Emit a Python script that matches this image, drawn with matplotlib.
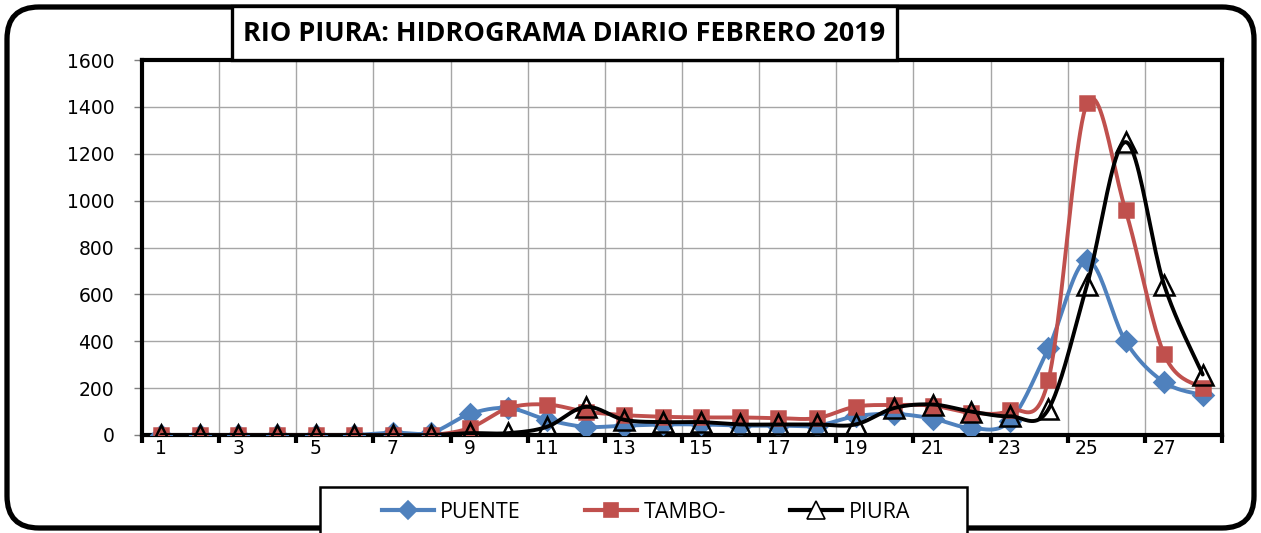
import matplotlib
matplotlib.use("Agg")
import matplotlib.pyplot as plt
import numpy as np
from matplotlib.patches import Rectangle, FancyBboxPatch
from matplotlib.lines import Line2D
from matplotlib.transforms import IdentityTransform

days = list(range(1, 29))
puente = [0, 0, 0, 0, 0, 0, 10, 10, 90, 115, 65, 35, 40, 45, 45, 40, 40, 40, 80, 90,
          70, 30, 60, 370, 745, 400, 225, 170]
tambo = [0, 0, 0, 0, 0, 0, 0, 0, 30, 115, 130, 100, 85, 78, 75, 75, 72, 72, 121, 128,
         125, 95, 105, 235, 1415, 958, 345, 200]
piura = [0, 0, 0, 0, 0, 0, 0, 0, 8, 8, 35, 120, 65, 55, 55, 45, 45, 45, 45, 115,
         130, 100, 80, 110, 640, 1250, 640, 258]
series_names = ["PUENTE", "TAMBO-", "PIURA"]
yticks = list(range(0, 1601, 200))
xlabels = [str(d) for d in range(1, 29, 2)]


def smooth(x, y, n=24):
    # bezier smoothing like excel's "smoothed line"
    pts = np.column_stack([x, y]).astype(float)
    p = np.vstack([pts[0], pts, pts[-1]])
    t = np.linspace(0, 1, n)[:, None]
    out = []
    for i in range(1, len(p) - 2):
        p0, p1, p2, p3 = p[i - 1], p[i], p[i + 1], p[i + 2]
        c1 = p1 + (p2 - p0) / 6
        c2 = p2 - (p3 - p1) / 6
        out.append((1 - t) ** 3 * p1 + 3 * (1 - t) ** 2 * t * c1
                   + 3 * (1 - t) * t ** 2 * c2 + t ** 3 * p2)
    out = np.vstack(out)
    return out[:, 0], out[:, 1]


W, H = 1261, 533
fig = plt.figure(figsize=(W / 100, H / 100), dpi=100)
ax = fig.add_axes([142 / W, (H - 435) / H, (1222 - 142) / W, (435 - 60) / H])

styles = [
    dict(color="#4F81BD", marker="D", ms=10, mfc="#4F81BD", mec="#4F81BD"),
    dict(color="#C0504D", marker="s", ms=10, mfc="#C0504D", mec="#C0504D"),
    dict(color="black", marker="^", ms=14, mfc="none", mec="black"),
]
handles = []
for k, (vals, st) in enumerate(zip([puente, tambo, piura], styles)):
    sx, sy = smooth(days, vals)
    ax.plot(sx, sy, color=st["color"], lw=2.8, zorder=3 + 2 * k, solid_capstyle="round")
    ax.plot(days, vals, ls="none", marker=st["marker"], ms=st["ms"], mfc=st["mfc"],
            mec=st["mec"], mew=1.8, zorder=4 + 2 * k)
    handles.append(Line2D([], [], color=st["color"], lw=3, marker=st["marker"],
                          ms=st["ms"] * 0.95, mfc="white" if st["mfc"] == "none" else st["mfc"],
                          mec=st["mec"], mew=1.2))

ax.set_xlim(0.5, 28.5)
ax.set_ylim(0, 1600)
ax.set_yticks(yticks)
ax.set_xticks(np.arange(0.5, 28.6, 2))
ax.set_xticklabels([])
ax.set_xticks(np.arange(1, 29, 2), minor=True)
ax.set_xticklabels(xlabels, minor=True)
ax.tick_params(axis="x", which="major", length=6, width=3, color="black", direction="out")
ax.tick_params(axis="x", which="minor", length=0, pad=3, labelsize=13.5)
ax.tick_params(axis="y", length=6, width=1, color="#7f7f7f", pad=14, labelsize=13.5)
ax.grid(True, which="major", color="#a6a6a6", lw=1)
ax.set_axisbelow(True)
for s in ax.spines.values():
    s.set_linewidth(3)
    s.set_color("black")

# outer rounded border
tr = IdentityTransform()
fig.patches.append(FancyBboxPatch((7, 5), W - 14, H - 12, boxstyle="round,pad=0,rounding_size=32",
                                  fill=False, lw=3.8, ec="black", transform=tr))
# title box
fig.patches.append(Rectangle((232, H - 60), 665, 54, fc="white", ec="black", lw=2.4, transform=tr))
fig.text(564.5 / W, (H - 34) / H, "RIO PIURA: HIDROGRAMA DIARIO FEBRERO 2019",
         ha="center", va="center", fontsize=19.5, fontweight="bold", family="Open Sans")
# legend box
fig.patches.append(Rectangle((320, -5), 647, H - 487 + 5, fc="white", ec="black", lw=1.8, transform=tr))
fig.legend(handles, series_names, loc="center", bbox_to_anchor=(646 / W, (H - 512) / H),
           ncol=3, frameon=False, handlelength=2.4, handletextpad=0.3, columnspacing=3.0,
           prop={"family": "Open Sans", "size": 15.5})

fig.savefig("out.png", dpi=100)
